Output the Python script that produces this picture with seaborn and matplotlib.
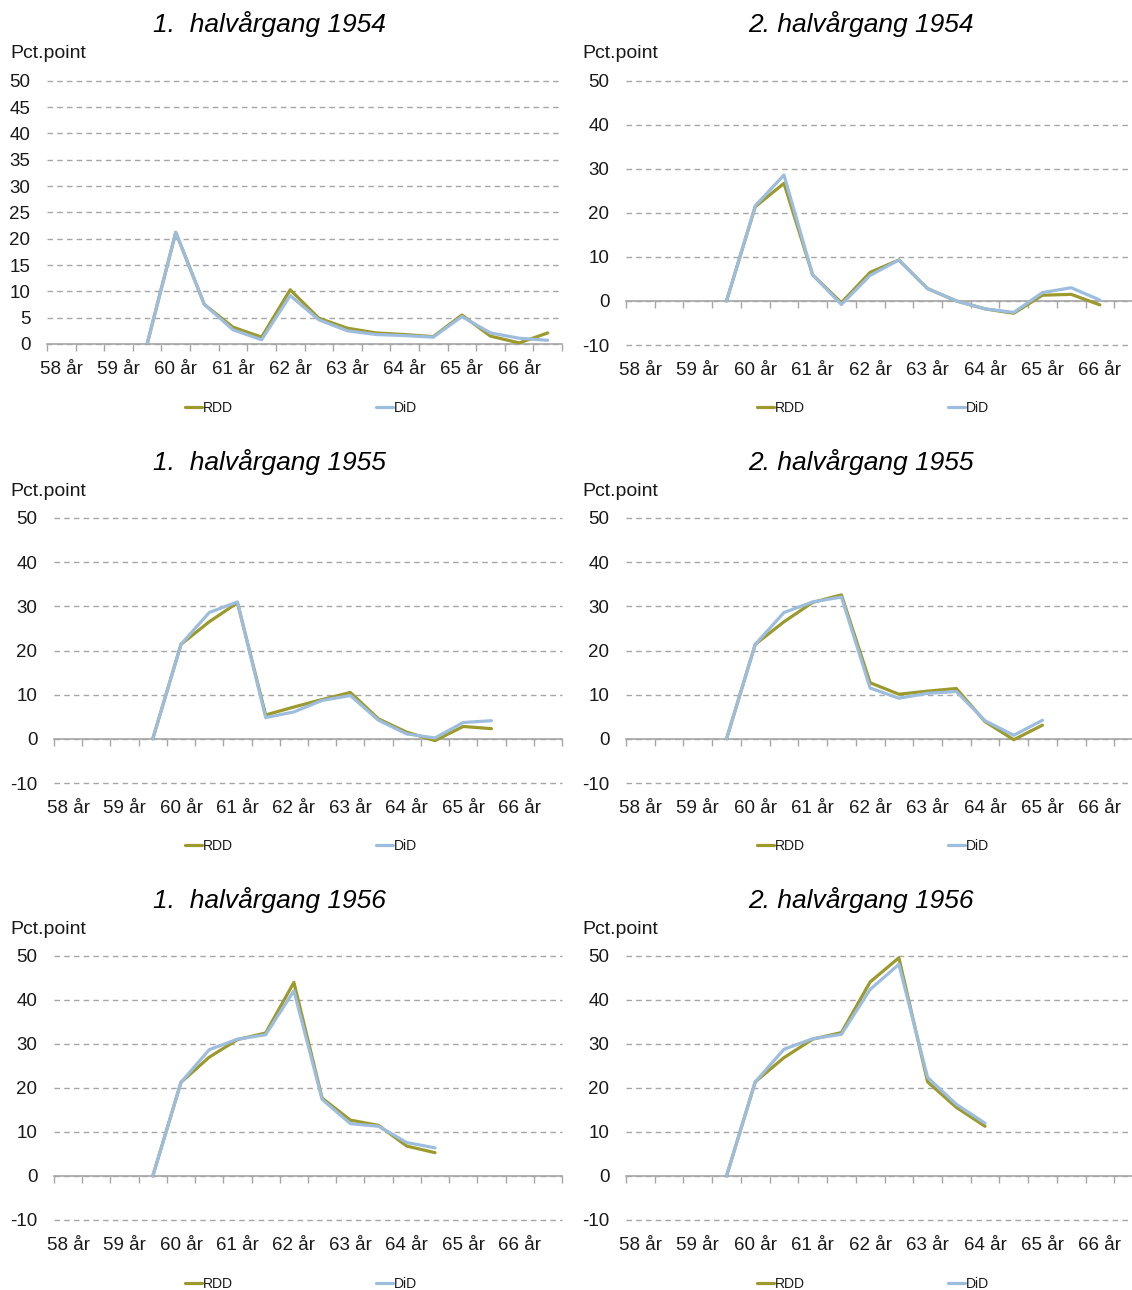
import numpy as np
import pandas as pd
import matplotlib
matplotlib.use('Agg')
import matplotlib.pyplot as plt
import seaborn as sns

# Half-year categories on the x axis, only whole years are labelled
categories = list(range(18))
cat_labels = ['58 år', '', '59 år', '', '60 år', '', '61 år', '', '62 år', '',
              '63 år', '', '64 år', '', '65 år', '', '66 år', '']
first_cat = 3  # series start at 59½ år

titles = ['1.  halvårgang 1954', '2. halvårgang 1954',
          '1.  halvårgang 1955', '2. halvårgang 1955',
          '1.  halvårgang 1956', '2. halvårgang 1956']

rdd_54_1 = [0, 21.2, 7.5, 3.2, 1.3, 10.3, 4.9, 3.0, 2.1, 1.8, 1.4, 5.5, 1.5, 0.2, 2.1]
did_54_1 = [0, 21.2, 7.5, 2.7, 0.8, 9.2, 4.6, 2.5, 1.8, 1.6, 1.3, 5.2, 2.1, 1.1, 0.7]
rdd_54_2 = [0, 21.4, 26.7, 5.9, -0.4, 6.5, 9.3, 2.8, 0.0, -1.8, -2.8, 1.3, 1.5, -0.9]
did_54_2 = [0, 21.6, 28.6, 5.9, -0.8, 5.8, 9.3, 2.8, 0.0, -1.8, -2.6, 1.9, 3.0, 0.2]
rdd_55_1 = [0, 21.4, 26.5, 30.8, 5.4, 7.2, 8.9, 10.5, 4.5, 1.5, -0.4, 2.8, 2.3]
did_55_1 = [0, 21.4, 28.6, 31.0, 4.8, 6.1, 8.7, 9.8, 4.2, 1.1, 0.2, 3.7, 4.1]
rdd_55_2 = [0, 21.4, 26.5, 30.9, 32.6, 12.7, 10.1, 10.8, 11.4, 3.9, -0.2, 3.1]
did_55_2 = [0, 21.4, 28.6, 31.0, 32.1, 11.5, 9.2, 10.3, 10.7, 4.1, 0.8, 4.2]
rdd_56_1 = [0, 21.3, 27.0, 31.0, 32.5, 44.0, 17.7, 12.7, 11.5, 6.8, 5.3]
did_56_1 = [0, 21.3, 28.7, 31.1, 32.1, 42.1, 17.4, 11.9, 11.3, 7.6, 6.4]
rdd_56_2 = [0, 21.4, 26.9, 31.1, 32.6, 44.1, 49.6, 21.4, 15.6, 11.3]
did_56_2 = [0, 21.4, 28.8, 31.2, 32.2, 42.4, 48.1, 22.4, 16.3, 12.0]

panels = [(rdd_54_1, did_54_1), (rdd_54_2, did_54_2),
          (rdd_55_1, did_55_1), (rdd_55_2, did_55_2),
          (rdd_56_1, did_56_1), (rdd_56_2, did_56_2)]

sns.set_style('white')
plt.rcParams['font.family'] = ['Liberation Sans', 'DejaVu Sans']
plt.rcParams['axes.unicode_minus'] = False

W, H = 1132, 1290
fig = plt.figure(figsize=(W / 100, H / 100), dpi=100)

palette = {'RDD': '#9C9A2C', 'DiD': '#9DBDDE'}
grid_col = '#A6A6A6'
text_col = '#1A1A1A'

# axes boxes in pixels: left, right, top, bottom
boxes = [(47, 562, 80.7, 344), (626, 1143, 80.7, 345),
         (54, 562, 518, 783), (626, 1143, 518, 783),
         (54, 562, 956, 1220), (626, 1143, 956, 1220)]
title_pos = [(269, 24), (861, 24), (269, 462), (861, 462), (269, 900), (861, 900)]
legend_x = [185, 757]
legend_y = [408, 846, 1284]

for i, (rdd, did) in enumerate(panels):
    l, r, t, b = boxes[i]
    ax = fig.add_axes([l / W, 1 - b / H, (r - l) / W, (b - t) / H])

    x = categories[first_cat:first_cat + len(rdd)]
    df = pd.DataFrame({
        'pos': x + x,
        'value': rdd + did,
        'series': ['RDD'] * len(rdd) + ['DiD'] * len(did),
    })
    sns.lineplot(data=df, x='pos', y='value', hue='series', palette=palette,
                 linewidth=2.3, ax=ax, legend=True)

    if i == 0:
        ymin, ymax, step = 0, 50, 5
    else:
        ymin, ymax, step = -10, 50, 10
    ax.set_ylim(ymin, ymax)
    ax.set_xlim(-0.5, 17.5)
    ax.set_yticks(np.arange(ymin, ymax + 1, step))
    ax.set_xticks(categories)
    ax.set_xticklabels(cat_labels)
    ax.set_xlabel('')
    ax.set_ylabel('')
    ax.tick_params(axis='x', length=0, pad=12, labelsize=13.5, labelcolor=text_col)
    ax.tick_params(axis='y', length=0, pad=12, labelsize=13.5, labelcolor=text_col)
    for s in ax.spines.values():
        s.set_visible(False)
    ax.yaxis.grid(True, color=grid_col, linestyle=(0, (4, 3)), linewidth=1)
    ax.xaxis.grid(False)
    ax.set_axisbelow(True)
    for gl in ax.get_ygridlines():
        gl.set_clip_on(False)

    # category axis crossing at zero, with tick marks between categories
    frac = (0 - ymin) / (ymax - ymin)
    sec = ax.secondary_xaxis(frac)
    sec.set_xticks(np.arange(-0.5, 18, 1))
    sec.set_xticklabels([])
    sec.tick_params(axis='x', length=5, width=1, color=grid_col, direction='out')
    sec.spines['bottom'].set_color(grid_col)
    sec.spines['bottom'].set_linewidth(1.2)

    # legend below each panel
    handles, labels = ax.get_legend_handles_labels()
    col = i % 2
    row = i // 2
    ax.legend(handles, labels, loc='center left', ncol=2, frameon=False,
              bbox_to_anchor=(legend_x[col] / W, 1 - legend_y[row] / H),
              bbox_transform=fig.transFigure, fontsize=10,
              handlelength=1.2, handletextpad=0.1, columnspacing=10.3,
              borderpad=0, borderaxespad=0, labelcolor=text_col)

    tx, ty = title_pos[i]
    fig.text(tx / W, 1 - ty / H, titles[i], ha='center', va='center',
             style='italic', fontsize=19, color='black')
    px = 10 if col == 0 else 582
    fig.text(px / W, 1 - (ty + 29) / H, 'Pct.point', ha='left', va='center',
             fontsize=14, color=text_col)

fig.savefig('out.png', dpi=100)
